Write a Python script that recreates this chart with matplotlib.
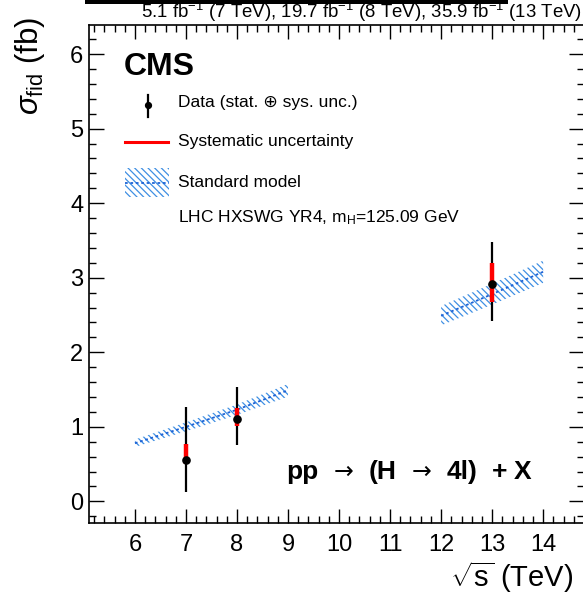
import matplotlib
matplotlib.use('Agg')
import matplotlib.pyplot as plt
from matplotlib.patches import Rectangle
from matplotlib.lines import Line2D
from matplotlib.ticker import MultipleLocator

plt.rcParams['font.family'] = ['Liberation Sans', 'DejaVu Sans']
plt.rcParams['mathtext.fontset'] = 'custom'
plt.rcParams['mathtext.rm'] = 'Liberation Sans'
plt.rcParams['mathtext.it'] = 'Liberation Sans:italic'
plt.rcParams['mathtext.bf'] = 'Liberation Sans:bold'
plt.rcParams['hatch.linewidth'] = 0.9

# ---- data ----
sqrt_s = [7, 8, 13]
sigma = [0.56, 1.11, 2.92]
tot_up = [0.70, 0.43, 0.56]
tot_dn = [0.44, 0.36, 0.50]
sys_up = [0.21, 0.14, 0.28]
sys_dn = [0.06, 0.10, 0.24]

sm_low_x = [6, 7, 8, 9]
sm_low_c = [0.78, 1.00, 1.23, 1.49]
sm_low_err = [0.05, 0.06, 0.07, 0.085]
sm_high_x = [12, 13, 14]
sm_high_c = [2.49, 2.78, 3.08]
sm_high_err = [0.13, 0.14, 0.15]

xticks = [6, 7, 8, 9, 10, 11, 12, 13, 14]
yticks = [0, 1, 2, 3, 4, 5, 6]

W, H = 583, 595
fig = plt.figure(figsize=(W / 100, H / 100), dpi=100)

def fx(px):
    return px / W

def fy(py):
    return 1 - py / H

ax = fig.add_axes([fx(89), fy(523), (584 - 89) / W, (523 - 25) / H])
ax.set_xlim(5.1, 14.8)
ax.set_ylim(-0.29, 6.39)

hatch_col = '#3f8fe3'
line_col = '#1d63d6'
HATCH = '\\' * 5
for xs, cs, es in [(sm_low_x, sm_low_c, sm_low_err), (sm_high_x, sm_high_c, sm_high_err)]:
    lo = [c - e for c, e in zip(cs, es)]
    hi = [c + e for c, e in zip(cs, es)]
    ax.fill_between(xs, lo, hi, facecolor='none', edgecolor=hatch_col,
                    hatch=HATCH, linewidth=0, zorder=1)
    ax.plot(xs, cs, color=line_col, lw=1.3, ls=(0, (1.5, 1.5)), zorder=2)

# total uncertainty
ax.errorbar(sqrt_s, sigma, yerr=[tot_dn, tot_up], fmt='none', ecolor='black',
            elinewidth=1.6, capsize=0, zorder=3)
# systematic
ax.errorbar(sqrt_s, sigma, yerr=[sys_dn, sys_up], fmt='none', ecolor='#ff0000',
            elinewidth=3.2, capsize=0, zorder=4)
ax.plot(sqrt_s, sigma, 'o', color='black', ms=5.2, zorder=5)

ax.set_xticks(xticks)
ax.set_yticks(yticks)
ax.xaxis.set_minor_locator(MultipleLocator(0.2))
ax.yaxis.set_minor_locator(MultipleLocator(0.2))
ax.tick_params(axis='x', which='major', direction='in', length=10, width=1.0,
               top=True, labelsize=17, pad=8)
ax.tick_params(axis='x', which='minor', direction='in', length=5, width=1.0, top=True)
ax.tick_params(axis='y', which='major', direction='in', length=11, width=1.0,
               right=True, labelsize=17, pad=4)
ax.tick_params(axis='y', which='minor', direction='in', length=5, width=1.0, right=True)
for s in ax.spines.values():
    s.set_linewidth(1.2)
ax.spines['right'].set_visible(False)

# axis titles
fig.text(fx(573), fy(587), r'$\sqrt{\rm s}$ (TeV)', ha='right', va='baseline', fontsize=21)
fig.text(fx(30), fy(17), r'$\sigma_{\rm fid}$ (fb)', ha='center', va='top',
         rotation=90, fontsize=22.5)

# top text and bar
fig.text(fx(582), fy(18), r'5.1 fb$^{-1}$ (7 TeV), 19.7 fb$^{-1}$ (8 TeV), 35.9 fb$^{-1}$ (13 TeV)',
         ha='right', va='baseline', fontsize=13.4)
fig.patches.append(Rectangle((fx(85), fy(3.5)), fx(508) - fx(85), 3.5 / H,
                             transform=fig.transFigure, facecolor='black',
                             edgecolor='none'))

# CMS label
fig.text(fx(124), fy(75), 'CMS', ha='left', va='baseline', fontsize=23,
         fontweight='bold')

# legend (manual)
lx = 178
fs = 12.5
fig.add_artist(Line2D([fx(147.5), fx(147.5)], [fy(95), fy(117)], color='black',
                      lw=1.6, transform=fig.transFigure))
fig.add_artist(Line2D([fx(147.5)], [fy(105)], marker='o', color='black', ms=4.2,
                      transform=fig.transFigure))
fig.text(fx(lx), fy(102), r'Data (stat. ⊕ sys. unc.)', ha='left', va='center',
         fontsize=fs)
fig.add_artist(Line2D([fx(125), fx(168)], [fy(141.5), fy(141.5)], color='#ff0000',
                      lw=2.2, transform=fig.transFigure))
fig.text(fx(lx), fy(141.5), 'Systematic uncertainty', ha='left', va='center', fontsize=fs)
fig.patches.append(Rectangle((fx(125), fy(197)), fx(169) - fx(125), (197 - 168) / H,
                             transform=fig.transFigure, facecolor='none',
                             edgecolor=hatch_col, hatch=HATCH, linewidth=0))
fig.add_artist(Line2D([fx(125), fx(169)], [fy(182.5), fy(182.5)], color=line_col,
                      lw=1.3, ls=(0, (1.5, 1.5)), transform=fig.transFigure))
fig.text(fx(lx), fy(182.5), 'Standard model', ha='left', va='center', fontsize=fs)
fig.text(fx(lx), fy(218), r'LHC HXSWG YR4, m$_{\rm H}$=125.09 GeV', ha='left',
         va='center', fontsize=fs)

# process label, in pieces
base = fy(479)
pfs = 19
fig.text(fx(286), base, 'pp', ha='left', va='baseline', fontsize=pfs, fontweight='bold')
fig.text(fx(334), base, '→', ha='left', va='baseline', fontsize=17,
         family=['DejaVu Sans'])
fig.text(fx(369), base, '(H', ha='left', va='baseline', fontsize=pfs, fontweight='bold')
fig.text(fx(412), base, '→', ha='left', va='baseline', fontsize=17,
         family=['DejaVu Sans'])
fig.text(fx(447), base, '4l)', ha='left', va='baseline', fontsize=pfs, fontweight='bold')
fig.text(fx(492), base, '+', ha='left', va='baseline', fontsize=pfs, fontweight='bold')
fig.text(fx(514), base, 'X', ha='left', va='baseline', fontsize=pfs, fontweight='bold')

fig.savefig('out.png', dpi=100)
